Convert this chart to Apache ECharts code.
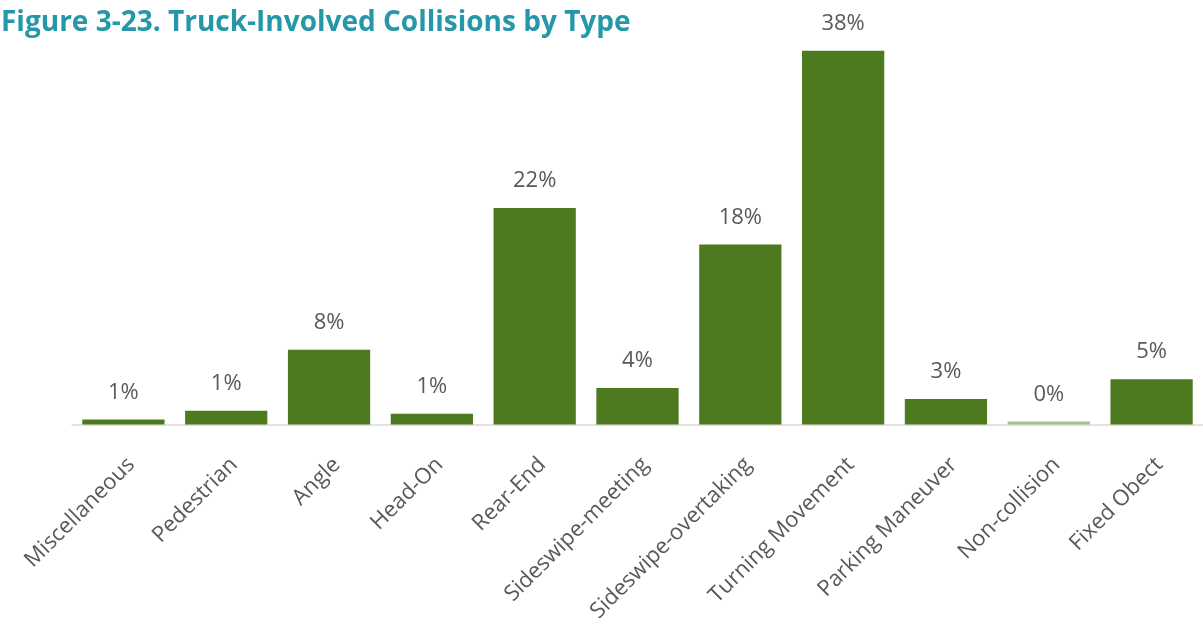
<!DOCTYPE html>
<html>
<head>
<meta charset="utf-8">
<title>Truck-Involved Collisions by Type</title>
<script src="https://cdn.jsdelivr.net/npm/echarts@6/dist/echarts.min.js"></script>
<style>
  html, body { margin: 0; padding: 0; background: #ffffff; }
  #chart { width: 1203px; height: 625px; }
</style>
</head>
<body>
<div id="chart"></div>
<script>
// Collision types and their share of truck-involved collisions (%)
const categories = [
  'Miscellaneous', 'Pedestrian', 'Angle', 'Head-On', 'Rear-End',
  'Sideswipe-meeting', 'Sideswipe-overtaking', 'Turning Movement',
  'Parking Maneuver', 'Non-collision', 'Fixed Obect'
];
const shares = [0.5, 1.4, 7.6, 1.1, 22.0, 3.7, 18.3, 38.0, 2.6, 0.3, 4.6];

const titleText = 'Figure 3-23. Truck-Involved Collisions by Type';

const BAR_GREEN = '#4e7a1f';
const BAR_LIGHT = '#a7bf8d';
const TEXT_GREY = '#595959';

const chart = echarts.init(document.getElementById('chart'), null, { renderer: 'canvas' });

chart.setOption({
  animation: false,
  backgroundColor: '#ffffff',
  title: {
    text: titleText,
    left: -4,
    top: 4,
    textStyle: {
      fontFamily: 'Open Sans',
      fontWeight: 'bold',
      fontSize: 28,
      color: '#2497a8'
    }
  },
  grid: { left: 72, right: -14, top: 31, bottom: 200 },
  xAxis: {
    type: 'category',
    data: categories,
    axisLine: { lineStyle: { color: '#d9d9d9', width: 1.5 } },
    axisTick: { show: false },
    axisLabel: {
      interval: 0,
      rotate: 45,
      align: 'right',
      verticalAlign: 'top',
      margin: 29,
      color: TEXT_GREY,
      fontFamily: 'Open Sans',
      fontSize: 22
    }
  },
  yAxis: { type: 'value', min: 0, max: 40, show: false },
  series: [
    {
      type: 'bar',
      barCategoryGap: '20%',
      data: shares.map(function (v, i) {
        return {
          value: v,
          itemStyle: { color: categories[i] === 'Non-collision' ? BAR_LIGHT : BAR_GREEN }
        };
      }),
      label: {
        show: true,
        position: 'top',
        distance: 16,
        color: TEXT_GREY,
        fontFamily: 'Open Sans',
        fontSize: 22,
        formatter: function (p) { return Math.round(p.value) + '%'; }
      }
    }
  ]
});
</script>
</body>
</html>
